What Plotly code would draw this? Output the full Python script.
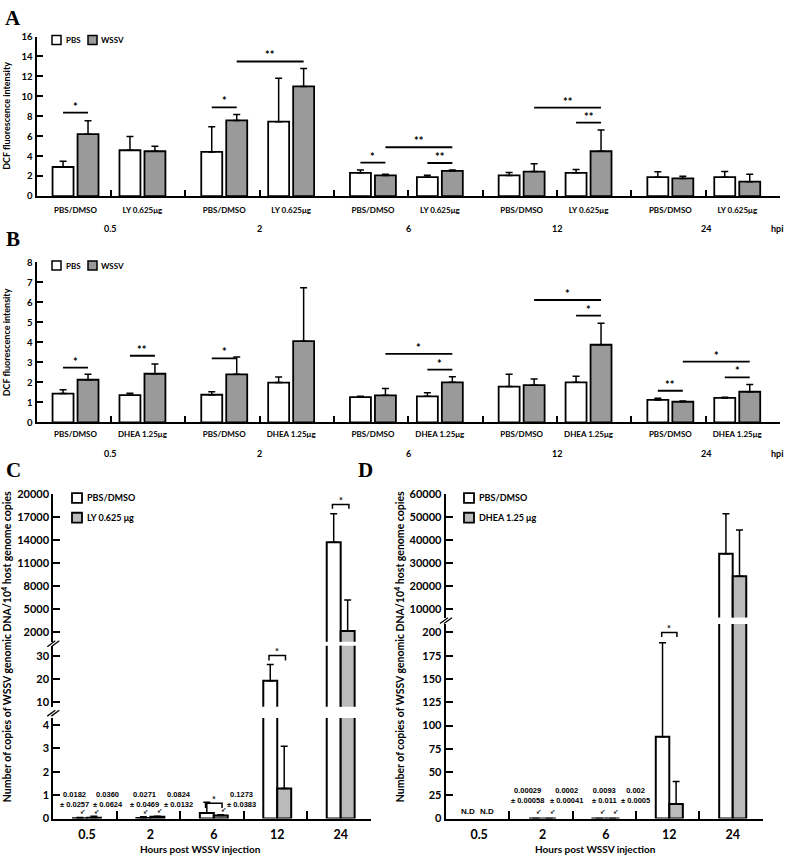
import plotly.graph_objects as go

W, H = 787, 862
FONT = "Lato"
NUMFONT = "Liberation Sans"


def fx(p):
    return p / W


def fy(p):
    return 1 - p / H


# ---------------- data ----------------
timepoints = ["0.5", "2", "6", "12", "24"]

# Panel A (DCF fluorescence, LY)
a_groups = ["PBS/DMSO", "LY 0.625μg"] * 5
a_pbs = [2.92, 4.60, 4.43, 7.46, 2.33, 1.90, 2.07, 2.33, 1.90, 1.90]
a_pbs_sd = [0.58, 1.38, 2.53, 4.37, 0.30, 0.20, 0.30, 0.33, 0.53, 0.56]
a_wssv = [6.21, 4.50, 7.59, 11.00, 2.07, 2.53, 2.46, 4.50, 1.77, 1.45]
a_wssv_sd = [1.35, 0.49, 0.59, 1.80, 0.13, 0.10, 0.79, 2.14, 0.23, 0.75]
# significance: (kind, subgroup_a, subgroup_b, line value, label)
a_sig = [("short", 0, 0, 8.38, "*"), ("short", 2, 2, 8.90, "*"),
         ("long", 2, 3, 13.5, "**"), ("short", 4, 4, 3.35, "*"),
         ("long", 4, 5, 4.90, "**"), ("short", 5, 5, 3.32, "**"),
         ("long", 6, 7, 8.87, "**"), ("short", 7, 7, 7.36, "**")]

# Panel B (DCF fluorescence, DHEA)
b_groups = ["PBS/DMSO", "DHEA 1.25μg"] * 5
b_pbs = [1.44, 1.36, 1.38, 1.99, 1.26, 1.30, 1.79, 2.00, 1.12, 1.22]
b_pbs_sd = [0.19, 0.10, 0.15, 0.28, 0.05, 0.18, 0.62, 0.30, 0.08, 0.04]
b_wssv = [2.13, 2.43, 2.40, 4.06, 1.35, 2.00, 1.86, 3.88, 1.03, 1.53]
b_wssv_sd = [0.27, 0.49, 0.87, 2.67, 0.34, 0.28, 0.31, 1.08, 0.04, 0.36]
b_sig = [("short", 0, 0, 2.74, "*"), ("short", 1, 1, 3.33, "**"),
         ("short", 2, 2, 3.20, "*"), ("long", 4, 5, 3.42, "*"),
         ("short", 5, 5, 2.64, "*"), ("long", 6, 7, 6.12, "*"),
         ("short", 7, 7, 5.34, "*"), ("short", 8, 8, 1.58, "**"),
         ("long", 8, 9, 3.04, "*"), ("short", 9, 9, 2.25, "*")]

# Panel C (WSSV copies, LY)
c_pbs = [0.0182, 0.0271, 0.24, 19.3, 13700]
c_pbs_sd = [0.0257, 0.0469, 0.46, 7.0, 3700]
c_ly = [0.0360, 0.0824, 0.1273, 1.29, 2200]
c_ly_sd = [0.0624, 0.0132, 0.0383, 1.80, 4000]
c_labels = [(0, "PBS", "0.0182", "0.0257"), (0, "LY", "0.0360", "0.0624"),
            (1, "PBS", "0.0271", "0.0469"), (1, "LY", "0.0824", "0.0132"),
            (2, "LY", "0.1273", "0.0383")]
c_sig = [(2, 0.66, 0.45, "*"), (3, 30.3, 28.1, "*"), (4, 18630, 18080, "*")]

# Panel D (WSSV copies, DHEA)
d_pbs = [None, 0.00029, 0.0093, 88.0, 34100]
d_pbs_sd = [0, 0.00058, 0.011, 101, 17300]
d_dhea = [None, 0.0002, 0.002, 15.7, 24400]
d_dhea_sd = [0, 0.00041, 0.0005, 24.2, 20000]
d_labels = [(1, "PBS", "0.00029", "0.00058"), (1, "DHEA", "0.0002", "0.00041"),
            (2, "PBS", "0.0093", "0.011"), (2, "DHEA", "0.002", "0.0005")]
d_sig = [(3, 200, 195, "*")]

# ---------------- figure ----------------
fig = go.Figure()
GRAY_AB = "#9a9a9a"
GRAY_CD = "#bababa"
LW = 1.8
shapes = []
annots = []


def pair_center(i):
    return i + (0.025 if i % 2 == 0 else -0.075)


HALF_AB, BW_AB = 0.168, 0.282


def xs_pbs(i):
    return pair_center(i) - HALF_AB


def xs_trt(i):
    return pair_center(i) + HALF_AB


def add_ab(xa, ya, pbs, pbs_sd, wssv, wssv_sd, sig):
    n = len(pbs)
    for xs, vals, sd, col, name in [
        ([xs_pbs(i) for i in range(n)], pbs, pbs_sd, "white", "PBS"),
        ([xs_trt(i) for i in range(n)], wssv, wssv_sd, GRAY_AB, "WSSV"),
    ]:
        fig.add_trace(go.Bar(
            x=xs, y=vals, width=BW_AB, xaxis=xa, yaxis=ya, name=name,
            showlegend=False,
            marker=dict(color=col, line=dict(color="black", width=LW)),
            error_y=dict(type="data", symmetric=False, array=sd,
                         arrayminus=[0] * n, color="black", thickness=1.5,
                         width=3.5)))
    for kind, i, j, yv, lab in sig:
        if kind == "short":
            x0, x1 = xs_pbs(i), xs_trt(i)
        else:
            x0, x1 = xs_trt(i), xs_trt(j)
        shapes.append(dict(type="line", xref=xa, yref=ya, x0=x0, x1=x1,
                           y0=yv, y1=yv, line=dict(color="black", width=1.8)))
        annots.append(dict(xref=xa, yref=ya, x=(x0 + x1) / 2, y=yv,
                           text=lab, showarrow=False, xanchor="center",
                           yanchor="middle", yshift=6.5,
                           font=dict(family=FONT, size=11, color="black",
                                     weight="bold")))


add_ab("x", "y", a_pbs, a_pbs_sd, a_wssv, a_wssv_sd, a_sig)
add_ab("x2", "y2", b_pbs, b_pbs_sd, b_wssv, b_wssv_sd, b_sig)

# C / D bars on broken axes
C_SHIFT, C_HALF, C_BW = 0.03, 0.11, 0.22
D_SHIFT, D_HALF, D_BW = 0.027, 0.107, 0.213


def add_cd(xa, yas, pbs, pbs_sd, trt, trt_sd, shift, half, bw, tname):
    n = len(pbs)
    for ya in yas:
        for sgn, vals, sd, col, name in [
            (-1, pbs, pbs_sd, "white", "PBS/DMSO"),
            (1, trt, trt_sd, GRAY_CD, tname),
        ]:
            fig.add_trace(go.Bar(
                x=[i + shift + sgn * half for i in range(n)], y=vals,
                width=bw, xaxis=xa, yaxis=ya, name=name, showlegend=False,
                marker=dict(color=col, line=dict(color="black", width=2)),
                error_y=dict(type="data", symmetric=False, array=sd,
                             arrayminus=[0] * n, color="black",
                             thickness=1.5, width=3.5)))


add_cd("x3", ["y3", "y4", "y5"], c_pbs, c_pbs_sd, c_ly, c_ly_sd,
       C_SHIFT, C_HALF, C_BW, "LY 0.625 μg")
add_cd("x4", ["y6", "y7"], d_pbs, d_pbs_sd, d_dhea, d_dhea_sd,
       D_SHIFT, D_HALF, D_BW, "DHEA 1.25 μg")

# brackets
starf = dict(family=FONT, size=9, color="black", weight="bold")
seg_c = ["y3", "y3", "y3", "y4", "y5"]
for g, top, leg, lab in c_sig:
    ya = seg_c[g]
    x0, x1 = g + C_SHIFT - 0.13, g + C_SHIFT + 0.13
    shapes.append(dict(type="path", xref="x3", yref=ya,
                       path=f"M{x0},{leg} L{x0},{top} L{x1},{top} L{x1},{leg}",
                       line=dict(color="black", width=1.5)))
    annots.append(dict(xref="x3", yref=ya, x=(x0 + x1) / 2, y=top, text=lab,
                       showarrow=False, xanchor="center", yanchor="middle",
                       yshift=4, font=starf))
for g, top, leg, lab in d_sig:
    x0, x1 = g + D_SHIFT - 0.12, g + D_SHIFT + 0.12
    shapes.append(dict(type="path", xref="x4", yref="y6",
                       path=f"M{x0},{leg} L{x0},{top} L{x1},{top} L{x1},{leg}",
                       line=dict(color="black", width=1.5)))
    annots.append(dict(xref="x4", yref="y6", x=(x0 + x1) / 2, y=top, text=lab,
                       showarrow=False, xanchor="center", yanchor="middle",
                       yshift=4, font=starf))

# value labels with small arrows
numfont = dict(family=NUMFONT, size=7.5, color="black", weight="bold")
ndfont = dict(family=NUMFONT, size=8, color="black", weight="bold")
arrowfont = dict(family="DejaVu Sans", size=6.5, color="black", weight="bold")
c_dx = [-0.078, 0.223, 0.023, 0.336, 0.332]
for (g, who, m, s), dx in zip(c_labels, c_dx):
    sgn = -1 if who == "PBS" else 1
    bx = g + C_SHIFT + sgn * C_HALF
    val = (c_pbs if who == "PBS" else c_ly)[g]
    annots.append(dict(xref="x3", yref="paper", x=bx + dx, y=fy(805),
                       text=f"{m}<br>± {s}", showarrow=False, font=numfont,
                       xanchor="center", yanchor="middle"))
    annots.append(dict(xref="x3", yref="y3", x=bx + 0.04, y=val, text="↙",
                       showarrow=False, xanchor="center", yanchor="bottom",
                       yshift=0, font=arrowfont))
d_dx = [-0.122, 0.274, 0.077, 0.367]
for (g, who, m, s), dx in zip(d_labels, d_dx):
    sgn = -1 if who == "PBS" else 1
    bx = g + D_SHIFT + sgn * D_HALF
    val = (d_pbs if who == "PBS" else d_dhea)[g]
    annots.append(dict(xref="x4", yref="paper", x=bx + dx, y=fy(801),
                       text=f"{m}<br>± {s}", showarrow=False, font=numfont,
                       xanchor="center", yanchor="middle"))
    annots.append(dict(xref="x4", yref="y6", x=bx + 0.05, y=val, text="↙",
                       showarrow=False, xanchor="center", yanchor="bottom",
                       yshift=1, font=arrowfont))
for sgn in (-1, 1):
    annots.append(dict(xref="x4", yref="paper", x=0 + sgn * 0.15, y=fy(817),
                       text="N.D", showarrow=False, font=ndfont,
                       xanchor="center", yanchor="middle"))

# ---------------- axes ----------------
tickf = dict(family=FONT, size=9.5, color="black", weight="bold")
catf = dict(family=FONT, size=8, color="black", weight="bold")
bigf = dict(family=FONT, size=12.5, color="black", weight="bold")
cdtf = dict(family=FONT, size=11, color="black", weight="bold")


def xcat(domain, anchor, n, labels, centers, font, minor_len, standoff):
    return dict(domain=domain, anchor=anchor, range=[-0.5, n - 0.5],
                showline=True, linecolor="black", linewidth=2,
                tickmode="array", tickvals=centers, ticktext=labels,
                ticks="inside", ticklen=0, tickfont=font,
                ticklabelstandoff=standoff,
                minor=dict(tickmode="array",
                           tickvals=[i + 0.5 for i in range(n)],
                           ticks="inside", ticklen=minor_len, tickwidth=1.5,
                           tickcolor="black"),
                showgrid=False, zeroline=False)


def yax(domain, anchor, rng, vals, font, ticklen=6):
    return dict(domain=domain, anchor=anchor, range=rng, tickmode="array",
                tickvals=vals, ticktext=[str(v) for v in vals],
                showline=True, linecolor="black", linewidth=2,
                ticks="inside", ticklen=ticklen, tickwidth=1.5,
                tickcolor="black", tickfont=font, showgrid=False,
                zeroline=False)


ab_centers = [pair_center(i) for i in range(10)]
fig.update_layout(
    xaxis=xcat([fx(36.5), fx(780)], "y", 10, a_groups, ab_centers, catf, 6, 5),
    yaxis=yax([fy(192), fy(30)], "x", [0, 16], list(range(0, 17, 2)), tickf),
    xaxis2=xcat([fx(36.5), fx(780)], "y2", 10, b_groups, ab_centers, catf, 6, 3),
    yaxis2=yax([fy(421.7), fy(259.3)], "x2", [0, 8], list(range(0, 9)), tickf),
    xaxis3=xcat([fx(53.3), fx(370.5)], "y3", 5, timepoints,
                [i + C_SHIFT for i in range(5)], bigf, 8, 3),
    yaxis3=yax([fy(824), fy(721.9)], "x3", [0, 4.3], [0, 1, 2, 3, 4], cdtf, 7),
    yaxis4=yax([fy(710.4), fy(648.5)], "x3", [8, 34.5], [10, 20, 30], cdtf, 7),
    yaxis5=yax([fy(644.4), fy(494.3)], "x3", [800, 20000],
               [2000, 5000, 8000, 11000, 14000, 17000, 20000], cdtf, 7),
    xaxis4=xcat([fx(445.7), fx(762.7)], "y6", 5, timepoints,
                [i + D_SHIFT for i in range(5)], bigf, 8, 3),
    yaxis6=yax([fy(824), fy(626.5)], "x4", [0, 209], list(range(0, 201, 25)),
               cdtf, 7),
    yaxis7=yax([fy(619.9), fy(494.3)], "x4", [6500, 60000],
               list(range(10000, 60001, 10000)), cdtf, 7),
)


# ---------------- texts ----------------
def ptext(x, y, text, font, **kw):
    d = dict(xref="paper", yref="paper", x=fx(x), y=fy(y), text=text,
             showarrow=False, font=font, xanchor="center", yanchor="middle")
    d.update(kw)
    annots.append(d)


letter = dict(family="Liberation Serif", size=21, color="black", weight="bold")
for t, x, y in [("A", 12.5, 11.5), ("B", 12.5, 236), ("C", 13.5, 470),
                ("D", 365.5, 470)]:
    ptext(x, y, t, letter)

ytf = dict(family=FONT, size=9, color="black", weight="bold")
for y in (111, 341):
    ptext(6.5, y, "DCF fluorescence intensity", ytf, textangle=-90)
ycf = dict(family=FONT, size=10.5, color="black", weight="bold")
for x in (6, 399):
    ptext(x, 650,
          "Number of copies of WSSV genomic DNA/10<sup>4</sup> host genome copies",
          ycf, textangle=-90)

grpf = dict(family=FONT, size=9, color="black", weight="bold")
for xa, ypx in (("x", 225), ("x2", 453)):
    for t, lab in enumerate(timepoints):
        annots.append(dict(xref=xa, yref="paper", x=2 * t + 0.5, y=fy(ypx),
                           text=lab, showarrow=False, font=grpf,
                           xanchor="center", yanchor="middle"))
    ptext(777, ypx, "hpi", grpf)

hf = dict(family=FONT, size=10, color="black", weight="bold")
for x in (200, 595):
    ptext(x, 855, "Hours post WSSV injection", hf)

# legends (drawn)
legf_small = dict(family=FONT, size=8, color="black", weight="bold")
legf = dict(family=FONT, size=9, color="black", weight="bold")
for ytop in (29, 258):
    for x0, col, lab in ((52, "white", "PBS"), (88, GRAY_AB, "WSSV")):
        shapes.append(dict(type="rect", xref="paper", yref="paper",
                           x0=fx(x0), x1=fx(x0 + 9), y0=fy(ytop + 9),
                           y1=fy(ytop), fillcolor=col,
                           line=dict(color="black", width=1.5)))
        ptext(x0 + 11.5, ytop + 4.5, lab, legf_small, xanchor="left")
for x0, items in ((72, [("white", "PBS/DMSO"), (GRAY_CD, "LY 0.625 μg")]),
                  (464, [("white", "PBS/DMSO"), (GRAY_CD, "DHEA 1.25 μg")])):
    for k, (col, lab) in enumerate(items):
        ytop = 493.5 + 20 * k
        shapes.append(dict(type="rect", xref="paper", yref="paper",
                           x0=fx(x0), x1=fx(x0 + 10), y0=fy(ytop + 10),
                           y1=fy(ytop), fillcolor=col,
                           line=dict(color="black", width=1.8)))
        ptext(x0 + 13, ytop + 5, lab, legf, xanchor="left")

# axis break marks
for bx, by in ((53.3, 646.5), (53.3, 717), (446, 623)):
    for off in (-2, 2):
        shapes.append(dict(type="line", xref="paper", yref="paper",
                           x0=fx(bx + off - 4), y0=fy(by + 3),
                           x1=fx(bx + off + 4), y1=fy(by - 3),
                           line=dict(color="black", width=1.3)))

fig.update_layout(
    width=W, height=H, margin=dict(l=0, r=0, t=0, b=0),
    paper_bgcolor="white", plot_bgcolor="white", barmode="overlay",
    showlegend=False, shapes=shapes, annotations=annots,
    font=dict(family=FONT, color="black"),
)

fig.write_html(
    "out.html",
    config={"displayModeBar": False},
    post_script="document.body.style.margin='0px';"
                "document.body.style.overflow='hidden';",
)
